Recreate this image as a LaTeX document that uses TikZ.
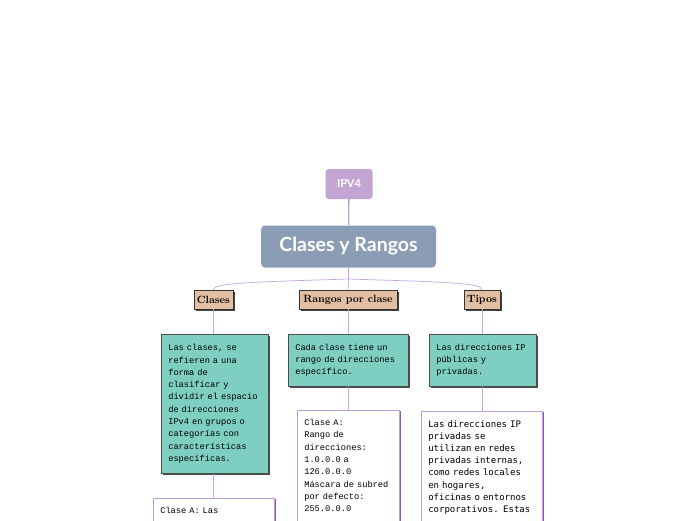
\documentclass[tikz,border=0pt]{standalone}
\usepackage{fontspec}
\usetikzlibrary{shadows}
\newfontfamily\headfont{Lato}
\newfontfamily\notefont[WordSpace={1,0,0}]{Liberation Mono}
\newfontfamily\plainmono[WordSpace={1,0,0}]{DejaVu Sans Mono}
\definecolor{ipvpurple}{HTML}{C3A5D4}
\definecolor{slatefill}{HTML}{8B9DB5}
\definecolor{tanfill}{HTML}{E2BFA2}
\definecolor{tealfill}{HTML}{7ECFC2}
\definecolor{darkline}{HTML}{9B5FC0}
\definecolor{lightline}{HTML}{C6A6DC}
\definecolor{noteedge}{HTML}{BC9ED2}
\definecolor{noteshade}{HTML}{8E5AB5}

\tikzset{
  rootbox/.style={rectangle, rounded corners=3pt, fill=ipvpurple, text=white,
    minimum width=47pt, minimum height=30pt, font=\headfont\bfseries\fontsize{11}{13}\selectfont},
  titlebox/.style={rectangle, rounded corners=4pt, fill=slatefill, text=white,
    minimum width=175pt, minimum height=42pt, font=\headfont\bfseries\fontsize{19.5}{22}\selectfont},
  topicbox/.style={rectangle, draw=black!80, fill=tanfill, line width=0.6pt,
    minimum height=19pt, inner sep=2pt, font=\bfseries\fontsize{10.5}{12}\selectfont,
    drop shadow={shadow xshift=1.6pt, shadow yshift=-1.6pt, fill=black!75, opacity=1}},
  notebox/.style={rectangle, draw=black!70, fill=tealfill, line width=0.6pt,
    anchor=north west, align=left, inner xsep=7pt, inner ysep=8pt,
    font=\notefont\fontsize{8.7}{12.3}\selectfont,
    drop shadow={shadow xshift=1.8pt, shadow yshift=-1.8pt, fill=black!70, opacity=1}},
  detailbox/.style={rectangle, draw=noteedge, fill=white, line width=0.6pt,
    anchor=north west, align=left, inner xsep=7pt, inner ysep=9pt,
    font=\notefont\fontsize{8.7}{12.3}\selectfont,
    drop shadow={shadow xshift=1.2pt, shadow yshift=-0.6pt, fill=noteshade, opacity=1}},
  link/.style={lightline, line width=0.7pt}
}

\begin{document}
\begin{tikzpicture}[x=1pt,y=1pt]
\useasboundingbox (0,0) rectangle (696,-520);
\fill[white] (0,0) rectangle (696,-520);
\clip (0,0) rectangle (696,-520);

% main topic
\node[rootbox] (ipv) at (349,-184) {IPV4};
\node[titlebox] (rangos) at (348.5,-246.5) {Clases y Rangos};
\coordinate (split) at (348.5,-279);

% second level
\node[topicbox, minimum width=39pt] (clases) at (213.5,-299.5) {Clases};
\node[topicbox, minimum width=98pt] (porclase) at (348,-299.5) {Rangos por clase};
\node[topicbox, minimum width=36pt] (tipos) at (482,-299.5) {Tipos};

% teal notes
\node[notebox, text width=93pt, minimum height=139pt] (clasesnote) at (161,-334)
  {Las clases, se\\refieren a una\\forma de\\clasificar y\\dividir el espacio\\de direcciones\\IPv4 en grupos o\\categorías con\\características\\específicas.};
\node[notebox, text width=106pt, minimum height=52pt] (porclasenote) at (288,-334)
  {Cada clase tiene un\\rango de direcciones\\específico.};
\node[notebox, text width=93pt, minimum height=52pt] (tiposnote) at (429,-334)
  {Las direcciones IP\\públicas y\\privadas.};

% white notes (run past the bottom edge)
\node[detailbox, text width=107pt, text depth=60pt] (clasesdetail) at (153,-498)
  {Clase A: Las};
\node[detailbox, text width=88pt, text depth=140pt] (porclasedetail) at (297,-410)
  {Clase A:\\Rango de\\direcciones:\\1.0.0.0 a\\126.0.0.0\\Máscara de subred\\por defecto:\\255.0.0.0};
\node[detailbox, text width=107pt, text depth=140pt, font=\plainmono\fontsize{9}{12.2}\selectfont] (tiposdetail) at (421,-411)
  {Las direcciones IP\\privadas se\\utilizan en redes\\privadas internas,\\como redes locales\\en hogares,\\oficinas o entornos\\corporativos. Estas};

% connectors
\draw[darkline, line width=0.8pt] (ipv) -- (rangos);
\draw[link] (rangos.south) -- (split);
\draw[link] (split) .. controls +(-95,-3) and +(0,7) .. (clases.north);
\draw[link] (split) -- (porclase.north);
\draw[link] (split) .. controls +(95,-3) and +(0,7) .. (tipos.north);

\draw[link] (clases.south) -- (clases.south |- clasesnote.north);
\draw[link] (porclase.south) -- (porclase.south |- porclasenote.north);
\draw[link] (tipos.south) -- (tipos.south |- tiposnote.north);

\draw[link] (clases.south |- clasesnote.south) -- (clases.south |- clasesdetail.north);
\draw[link] (porclase.south |- porclasenote.south) -- (porclase.south |- porclasedetail.north);
\draw[link] (tipos.south |- tiposnote.south) -- (tipos.south |- tiposdetail.north);
\end{tikzpicture}
\end{document}
